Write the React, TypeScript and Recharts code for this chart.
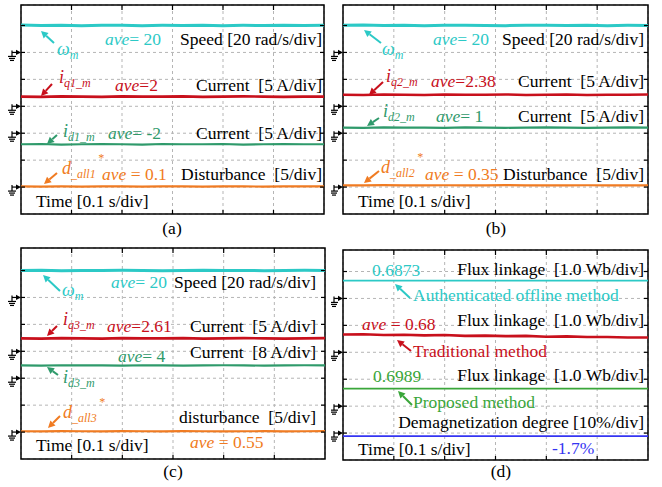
import React from 'react'
import {
  LineChart,
  Line,
  XAxis,
  YAxis,
  CartesianGrid,
  ReferenceDot,
  ReferenceArea,
} from 'recharts'

const FONT = '"Liberation Serif", "Times New Roman", serif'

// time base: 6 divisions of 0.1 s
const sampleTime = [0, 0.04, 0.08, 0.12, 0.16, 0.2, 0.24, 0.28, 0.32, 0.36, 0.4, 0.44, 0.48, 0.52, 0.56, 0.6]
const timeTicks = [0.1, 0.2, 0.3, 0.4, 0.5]
const divTicks = [1, 2, 3, 4, 5, 6, 7]

// (a)
const speedA = [20.3, 20.0, 20.2, 19.9, 20.1, 20.2, 19.9, 20.1, 20.0, 20.2, 19.9, 20.1, 20.0, 20.2, 20.0, 20.1]
const iqA = [1.8, 1.75, 1.85, 1.8, 1.75, 1.85, 1.8, 1.8, 1.85, 1.75, 1.8, 1.85, 1.8, 1.75, 1.8, 1.8]
const idA = [-2.05, -2.0, -2.1, -2.05, -2.0, -2.05, -2.1, -2.0, -2.05, -2.05, -2.0, -2.1, -2.05, -2.0, -2.05, -2.05]
const distA = [0.12, 0.1, 0.14, 0.1, 0.12, 0.14, 0.1, 0.12, 0.12, 0.1, 0.14, 0.12, 0.1, 0.12, 0.14, 0.12]
const scaleA = [20, 5, 5, 5]
const groundA = [6, 4, 3, 1]

// (b)
const speedB = [20.1, 20.3, 20.0, 20.2, 19.9, 20.1, 20.2, 20.0, 19.9, 20.2, 20.1, 20.0, 20.2, 19.9, 20.1, 20.0]
const iqB = [2.15, 2.1, 2.2, 2.15, 2.1, 2.2, 2.15, 2.15, 2.2, 2.1, 2.15, 2.2, 2.1, 2.15, 2.15, 2.2]
const idB = [1.05, 1.0, 1.1, 1.05, 1.05, 1.0, 1.1, 1.05, 1.0, 1.05, 1.1, 1.05, 1.0, 1.05, 1.1, 1.05]
const distB = [0.32, 0.3, 0.35, 0.32, 0.3, 0.34, 0.32, 0.3, 0.35, 0.32, 0.3, 0.32, 0.34, 0.3, 0.32, 0.33]
const scaleB = [20, 5, 5, 5]
const groundB = [6, 4, 3, 1]

// (c)
const speedC = [20.0, 20.2, 19.9, 20.1, 20.0, 20.2, 20.1, 19.9, 20.0, 20.2, 20.0, 20.1, 19.9, 20.1, 20.2, 20.0]
const iqC = [2.4, 2.35, 2.45, 2.4, 2.35, 2.45, 2.4, 2.4, 2.45, 2.35, 2.4, 2.45, 2.4, 2.35, 2.4, 2.45]
const idC = [3.8, 3.75, 3.85, 3.8, 3.8, 3.75, 3.85, 3.8, 3.75, 3.8, 3.85, 3.8, 3.75, 3.8, 3.85, 3.8]
const distC = [0.15, 0.12, 0.18, 0.15, 0.12, 0.16, 0.15, 0.12, 0.18, 0.15, 0.12, 0.15, 0.16, 0.12, 0.15, 0.16]
const scaleC = [20, 5, 8, 5]
const groundC = [6, 4, 3, 1]

// (d)
const fluxOffline = [0.66, 0.66, 0.66, 0.66, 0.66, 0.66, 0.66, 0.66, 0.66, 0.66, 0.66, 0.66, 0.66, 0.66, 0.66, 0.66]
const fluxTrad = [0.66, 0.67, 0.64, 0.65, 0.63, 0.64, 0.61, 0.62, 0.6, 0.61, 0.58, 0.59, 0.57, 0.57, 0.55, 0.55]
const fluxProp = [0.65, 0.65, 0.65, 0.65, 0.65, 0.65, 0.65, 0.65, 0.65, 0.65, 0.65, 0.65, 0.65, 0.65, 0.65, 0.65]
const demag = [-1.1, -1.1, -1.1, -1.1, -1.1, -1.1, -1.1, -1.1, -1.1, -1.1, -1.1, -1.1, -1.1, -1.1, -1.1, -1.1]
const scaleD = [1, 1, 1, 10]
const groundD = [6, 4, 2, 1]

const CYAN = '#2cc9c6'
const RED = '#c8101c'
const GREEN = '#2f9a6b'
const ORANGE = '#f07b22'
const GREEN_D = '#3aa63a'
const BLUE = '#3434f2'

function buildRows(series: number[][], scales: number[], grounds: number[]) {
  return sampleTime.map((t, i) => {
    const row: Record<string, number> = { t }
    series.forEach((s, k) => {
      row['c' + k] = grounds[k] + s[i] / scales[k]
    })
    return row
  })
}

const rowsA = buildRows([speedA, iqA, idA, distA], scaleA, groundA)
const rowsB = buildRows([speedB, iqB, idB, distB], scaleB, groundB)
const rowsC = buildRows([speedC, iqC, idC, distC], scaleC, groundC)
const rowsD = buildRows([fluxOffline, fluxTrad, fluxProp, demag], scaleD, groundD)

function Ground(props: any) {
  const { cx, cy } = props
  if (cx == null || cy == null) return null
  const s = '#000'
  return (
    <g>
      <line x1={cx - 9} y1={cy} x2={cx - 4} y2={cy} stroke={s} strokeWidth={1.2} />
      <polygon points={`${cx},${cy} ${cx - 5},${cy - 2.6} ${cx - 5},${cy + 2.6}`} fill={s} />
      <line x1={cx - 9} y1={cy - 2} x2={cx - 9} y2={cy + 4} stroke={s} strokeWidth={1.2} />
      <line x1={cx - 13} y1={cy + 4} x2={cx - 5} y2={cy + 4} stroke={s} strokeWidth={1.2} />
      <line x1={cx - 12} y1={cy + 6} x2={cx - 6} y2={cy + 6} stroke={s} strokeWidth={1.2} />
      <line x1={cx - 11} y1={cy + 8} x2={cx - 7} y2={cy + 8} stroke={s} strokeWidth={1.2} />
    </g>
  )
}

function Arrow({ x1, y1, x2, y2, color }: { x1: number; y1: number; x2: number; y2: number; color: string }) {
  const a = Math.atan2(y2 - y1, x2 - x1)
  const L = 7
  const W = 3.6
  const bx = x2 - L * Math.cos(a)
  const by = y2 - L * Math.sin(a)
  const px = -Math.sin(a) * W
  const py = Math.cos(a) * W
  return (
    <g>
      <line x1={x1} y1={y1} x2={bx} y2={by} stroke={color} strokeWidth={2} />
      <polygon points={`${x2},${y2} ${bx + px},${by + py} ${bx - px},${by - py}`} fill={color} />
    </g>
  )
}

function Note({ x, y, color = '#000', anchor = 'start', children }: any) {
  return (
    <text
      x={x}
      y={y}
      fill={color}
      textAnchor={anchor}
      style={{ whiteSpace: 'pre', fontFamily: FONT, fontSize: 17.5 }}
    >
      {children}
    </text>
  )
}

const It = ({ children }: any) => <tspan style={{ fontStyle: 'italic' }}>{children}</tspan>

function Sym({ x, y, color, main, sub, star }: any) {
  return (
    <text x={x} y={y} fill={color} style={{ fontFamily: FONT, fontSize: 18, fontStyle: 'italic' }}>
      <tspan>{main}</tspan>
      <tspan dy={4} style={{ fontSize: 12 }}>{sub}</tspan>
      {star ? <tspan dy={-16} dx={2} style={{ fontSize: 12 }}>*</tspan> : null}
    </text>
  )
}

const tickLine = { stroke: '#000', strokeWidth: 1.2 }
const noLabel = () => ''

function Panel({ left, top, margin, yTop, rows, colors, widths, grounds, children }: any) {
  const m = { top: margin.top - 1, left: margin.left - 1, right: margin.right - 1, bottom: margin.bottom - 1 }
  return (
    <div style={{ position: 'absolute', left, top }}>
      <LineChart width={331} height={243} data={rows} margin={m}>
        <XAxis xAxisId="b" dataKey="t" type="number" domain={[0, 0.6]} ticks={timeTicks} interval={0}
          tickFormatter={noLabel} tickSize={4} mirror height={1} axisLine={false} tickLine={tickLine} />
        <XAxis xAxisId="t" orientation="top" dataKey="t" type="number" domain={[0, 0.6]} ticks={timeTicks} interval={0}
          tickFormatter={noLabel} tickSize={5} mirror height={1} axisLine={false} tickLine={tickLine} />
        <YAxis yAxisId="l" type="number" domain={[0, yTop]} ticks={divTicks} interval={0} allowDataOverflow
          tickFormatter={noLabel} tickSize={4} mirror width={1} axisLine={false} tickLine={tickLine} />
        <YAxis yAxisId="r" orientation="right" type="number" domain={[0, yTop]} ticks={divTicks} interval={0} allowDataOverflow
          tickFormatter={noLabel} tickSize={4} mirror width={1} axisLine={false} tickLine={tickLine} />
        <CartesianGrid xAxisId="b" yAxisId="l" stroke="#b5b5b5" strokeDasharray="3 3" />
        {colors.map((c: string, k: number) => (
          <Line key={k} xAxisId="b" yAxisId="l" dataKey={'c' + k} stroke={c} strokeWidth={widths[k]}
            dot={false} activeDot={false} isAnimationActive={false} />
        ))}
        <ReferenceArea xAxisId="b" yAxisId="l" x1={0} x2={0.6} y1={0} y2={yTop} fill="none" fillOpacity={0}
          stroke="#000" strokeWidth={1.5} ifOverflow="visible" />
        {grounds.map((g: number, k: number) => (
          <ReferenceDot key={'g' + k} xAxisId="b" yAxisId="l" x={0} y={g} r={0} ifOverflow="visible"
            shape={(p: any) => <Ground {...p} />} />
        ))}
        {children}
      </LineChart>
    </div>
  )
}

export default function App() {
  return (
    <div style={{ position: 'absolute', left: 0, top: 0, width: 662, height: 487, background: '#fff' }}>
      <Panel left={0} top={0} margin={{ top: 6, left: 22, right: 8, bottom: 30 }} yTop={207 / 26.67}
        rows={rowsA} colors={[CYAN, RED, GREEN, ORANGE]} widths={[3, 2.6, 2.2, 2.2]} grounds={groundA}>
        <Arrow x1={54} y1={43} x2={41} y2={31} color={CYAN} />
        <Sym x={57} y={55} color={CYAN} main="ω" sub="m" />
        <Note x={105} y={45} color={CYAN}><It>ave</It>= 20</Note>
        <Note x={322} y={45} anchor="end">Speed [20 rad/s/div]</Note>
        <Arrow x1={52} y1={84} x2={41} y2={96} color={RED} />
        <Sym x={59} y={83} color={RED} main="i" sub="q1_m" />
        <Note x={115} y={91} color={RED}><It>ave</It>=2</Note>
        <Note x={322} y={91} anchor="end">Current  [5 A/div]</Note>
        <Arrow x1={57} y1={135} x2={47} y2={144} color={GREEN} />
        <Sym x={63} y={137} color={GREEN} main="i" sub="d1_m" />
        <Note x={108} y={139} color={GREEN}><It>ave</It>= -2</Note>
        <Note x={322} y={139} anchor="end">Current  [5 A/div]</Note>
        <Arrow x1={57} y1={173} x2={44} y2={184} color={ORANGE} />
        <Sym x={62} y={174} color={ORANGE} main="d" sub="_all1" star />
        <Note x={102} y={180} color={ORANGE}><It>ave</It> = 0.1</Note>
        <Note x={322} y={180} anchor="end">Disturbance  [5/div]</Note>
        <Note x={36} y={207}>Time [0.1 s/div]</Note>
        <Note x={172} y={234} anchor="middle">(a)</Note>
      </Panel>

      <Panel left={331} top={0} margin={{ top: 6, left: 13, right: 15, bottom: 30 }} yTop={207 / 26.67}
        rows={rowsB} colors={[CYAN, RED, GREEN, ORANGE]} widths={[3, 2.6, 2.2, 2.2]} grounds={groundB}>
        <Arrow x1={50} y1={43} x2={33} y2={30} color={CYAN} />
        <Sym x={51} y={55} color={CYAN} main="ω" sub="m" />
        <Note x={102} y={45} color={CYAN}><It>ave</It>= 20</Note>
        <Note x={313} y={45} anchor="end">Speed [20 rad/s/div]</Note>
        <Arrow x1={52} y1={82} x2={38} y2={95} color={RED} />
        <Sym x={55} y={82} color={RED} main="i" sub="q2_m" />
        <Note x={100} y={87} color={RED}><It>ave</It>=2.38</Note>
        <Note x={313} y={87} anchor="end">Current  [5 A/div]</Note>
        <Arrow x1={48} y1={118} x2={36} y2={126} color={GREEN} />
        <Sym x={52} y={117} color={GREEN} main="i" sub="d2_m" />
        <Note x={105} y={122} color={GREEN}><It>ave</It>= 1</Note>
        <Note x={313} y={122} anchor="end">Current  [5 A/div]</Note>
        <Arrow x1={48} y1={171} x2={33} y2={183} color={ORANGE} />
        <Sym x={50} y={173} color={ORANGE} main="d" sub="_all2" star />
        <Note x={94} y={180} color={ORANGE}><It>ave</It> = 0.35</Note>
        <Note x={313} y={180} anchor="end">Disturbance  [5/div]</Note>
        <Note x={27} y={207}>Time [0.1 s/div]</Note>
        <Note x={165} y={234} anchor="middle">(b)</Note>
      </Panel>

      <Panel left={0} top={243} margin={{ top: 6, left: 22, right: 7, bottom: 28 }} yTop={209 / 26.67}
        rows={rowsC} colors={[CYAN, RED, GREEN, ORANGE]} widths={[3, 2.6, 2.2, 2.2]} grounds={groundC}>
        <Arrow x1={60} y1={48} x2={43} y2={32} color={CYAN} />
        <Sym x={62} y={53} color={CYAN} main="ω" sub="m" />
        <Note x={111} y={45} color={CYAN}><It>ave</It>= 20</Note>
        <Note x={316} y={45} anchor="end">Speed [20 rad/s/div]</Note>
        <Arrow x1={57} y1={83} x2={47} y2={93} color={RED} />
        <Sym x={63} y={82} color={RED} main="i" sub="q3_m" />
        <Note x={107} y={89} color={RED}><It>ave</It>=2.61</Note>
        <Note x={316} y={89} anchor="end">Current  [5 A/div]</Note>
        <Note x={316} y={115} anchor="end">Current  [8 A/div]</Note>
        <Note x={118} y={119} color={GREEN}><It>ave</It>= 4</Note>
        <Arrow x1={58} y1={132} x2={47} y2={124} color={GREEN} />
        <Sym x={63} y={140} color={GREEN} main="i" sub="d3_m" />
        <Arrow x1={60} y1={173} x2={48} y2={185} color={ORANGE} />
        <Sym x={63} y={175} color={ORANGE} main="d" sub="_all3" star />
        <Note x={316} y={180} anchor="end">disturbance  [5/div]</Note>
        <Note x={190} y={205} color={ORANGE}><It>ave</It> = 0.55</Note>
        <Note x={36} y={208}>Time [0.1 s/div]</Note>
        <Note x={173} y={234} anchor="middle">(c)</Note>
      </Panel>

      <Panel left={331} top={243} margin={{ top: 8, left: 13, right: 15, bottom: 27 }} yTop={208 / 26.67}
        rows={rowsD} colors={[CYAN, RED, GREEN_D, BLUE]} widths={[1.8, 2.6, 1.8, 1.8]} grounds={groundD}>
        <Note x={41} y={33} color={CYAN}>0.6873</Note>
        <Note x={313} y={32} anchor="end">Flux linkage  [1.0 Wb/div]</Note>
        <Arrow x1={79} y1={55} x2={64} y2={41} color={CYAN} />
        <Note x={82} y={58} color={CYAN}>Authenticated offline method</Note>
        <Note x={31} y={87} color={RED}><It>ave</It> = 0.68</Note>
        <Note x={313} y={83} anchor="end">Flux linkage  [1.0 Wb/div]</Note>
        <Arrow x1={80} y1={108} x2={66} y2={97} color={RED} />
        <Note x={82} y={114} color={RED}>Traditional method</Note>
        <Note x={42} y={139} color={GREEN_D}>0.6989</Note>
        <Note x={313} y={138} anchor="end">Flux linkage  [1.0 Wb/div]</Note>
        <Arrow x1={81} y1={162} x2={67} y2={148} color={GREEN_D} />
        <Note x={82} y={165} color={GREEN_D}>Proposed method</Note>
        <Note x={313} y={185} anchor="end">Demagnetization degree [10%/div]</Note>
        <Note x={27} y={212}>Time [0.1 s/div]</Note>
        <Note x={221} y={211} color={BLUE}>-1.7%</Note>
        <Note x={170} y={234} anchor="middle">(d)</Note>
      </Panel>
    </div>
  )
}
